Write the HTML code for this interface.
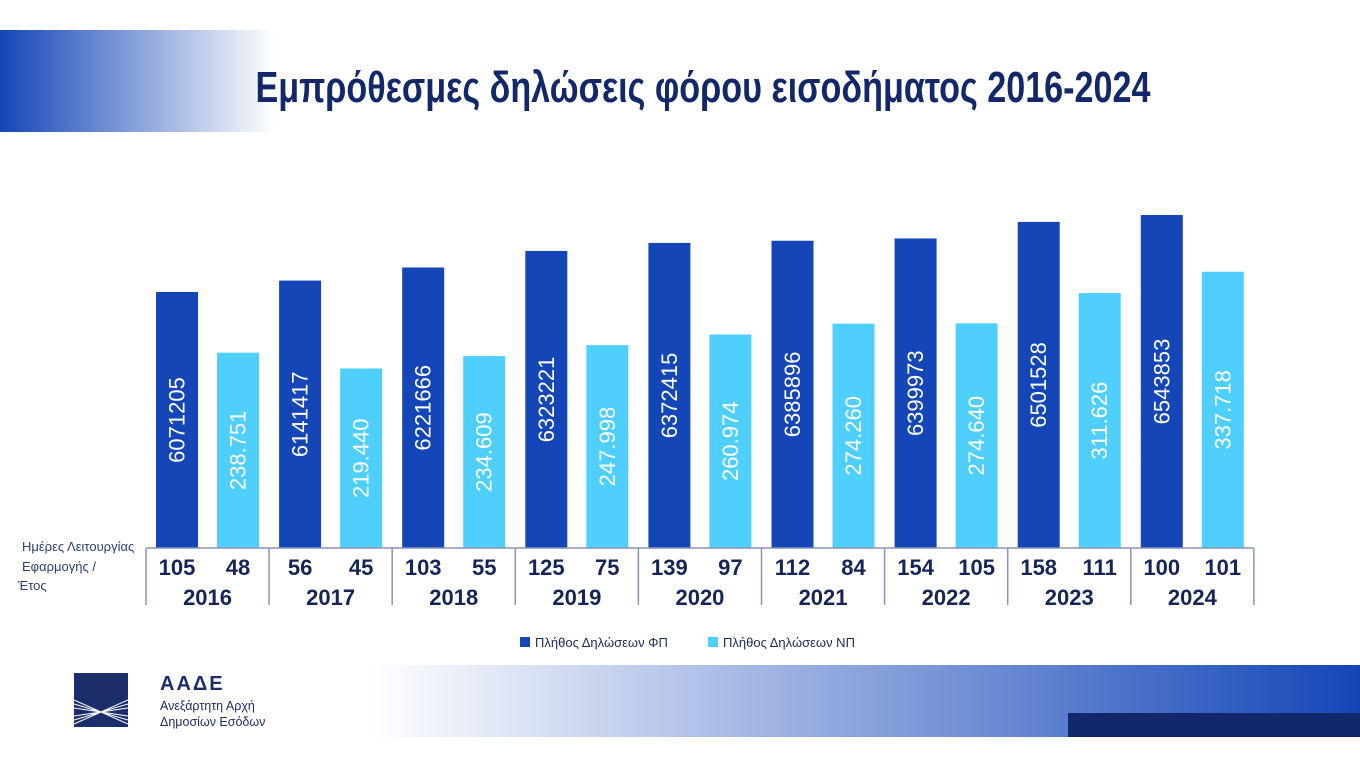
<!DOCTYPE html>
<html><head><meta charset="utf-8"><style>
html,body{margin:0;padding:0;background:#fff;}
svg{display:block;font-family:"Liberation Sans",sans-serif;}
</style></head><body>
<svg id="chart" width="1360" height="765" viewBox="0 0 1360 765">
<defs>
<linearGradient id="gTop" x1="0" x2="1"><stop offset="0" stop-color="#1446b8"/><stop offset="1" stop-color="#1446b8" stop-opacity="0"/></linearGradient>
<linearGradient id="gBot" x1="0" x2="1"><stop offset="0" stop-color="#1446b8" stop-opacity="0"/><stop offset="1" stop-color="#1446b8"/></linearGradient>
</defs>
<rect x="0" y="30" width="275" height="102" fill="url(#gTop)"/>
<text x="703" y="102" text-anchor="middle" textLength="895" lengthAdjust="spacingAndGlyphs" font-family="Liberation Sans Narrow, Liberation Sans, sans-serif" font-weight="bold" font-size="44" fill="#13286b">Εμπρόθεσμες δηλώσεις φόρου εισοδήματος 2016-2024</text>
<g id="bars"></g>
<g id="axis"></g>
<text font-size="13" fill="#2a3f7a"><tspan x="22" y="551">Ημέρες Λειτουργίας</tspan><tspan x="22" y="571">Εφαρμογής /</tspan><tspan x="18" y="590">Έτος</tspan></text>
<g>
<rect x="520" y="637" width="10" height="10" fill="#1446b8"/>
<text x="535" y="647" font-size="13" fill="#1a2a5a">Πλήθος Δηλώσεων ΦΠ</text>
<rect x="708" y="637" width="10" height="10" fill="#4fcffd"/>
<text x="723" y="647" font-size="13" fill="#1a2a5a">Πλήθος Δηλώσεων ΝΠ</text>
</g>
<rect x="370" y="665" width="990" height="72" fill="url(#gBot)"/>
<rect x="1068" y="713" width="292" height="24" fill="#13286b"/>
<g>
<rect x="74" y="673" width="54" height="54" fill="#1b2d6b"/>
<g stroke="#fff" stroke-width="1" fill="none">
<path d="M74 700 L101 712 L128 700 M74 704 L101 712 L128 704 M74 708 L101 712 L128 708 M74 716 L101 712 L128 716 M74 720 L101 712 L128 720 M74 724 L101 712 L128 724"/>
</g>
<text x="160" y="690" font-size="20" font-weight="bold" fill="#1b2d6b" letter-spacing="2">ΑΑΔΕ</text>
<text x="160" y="710" font-size="12.5" fill="#1b2d6b">Ανεξάρτητη Αρχή</text>
<text x="160" y="726" font-size="12.5" fill="#1b2d6b">Δημοσίων Εσόδων</text>
</g>
</svg>
<script>
const years=["2016","2017","2018","2019","2020","2021","2022","2023","2024"];
const fpValues=[6071205,6141417,6221666,6323221,6372415,6385896,6399973,6501528,6543853];
const npValues=[238.751,219.440,234.609,247.998,260.974,274.260,274.640,311.626,337.718];
const fpLabels=["6071205","6141417","6221666","6323221","6372415","6385896","6399973","6501528","6543853"];
const npLabels=["238.751","219.440","234.609","247.998","260.974","274.260","274.640","311.626","337.718"];
const fpDays=["105","56","103","125","139","112","154","158","100"];
const npDays=["48","45","55","75","97","84","105","111","101"];
const NS="http://www.w3.org/2000/svg";
const baseY=548,x0=146,groupW=123.1;
function yFP(v){return baseY-(v-4499700)*1.629e-4;}
function yNP(v){return baseY-v*0.818;}
function xg(i){return x0+i*groupW;}
function mk(tag,attrs,parent){const e=document.createElementNS(NS,tag);for(const k in attrs)e.setAttribute(k,attrs[k]);parent.appendChild(e);return e;}
const bars=document.getElementById('bars'),axis=document.getElementById('axis');
years.forEach((yr,i)=>{
  const gx=xg(i);
  [[fpValues[i],yFP,"#1446b8",10,fpLabels[i],'bar-fp-'+yr],[npValues[i],yNP,"#4fcffd",71,npLabels[i],'bar-np-'+yr]].forEach(([v,f,c,off,lab,nm])=>{
    const top=f(v),bx=gx+off,w=42;
    const r=mk('rect',{x:bx,y:top,width:w,height:baseY-top,fill:c},bars);
    
    
    const cx=bx+w/2,cy=(top+baseY)/2;
    const t=mk('text',{x:cx,y:cy,'text-anchor':'middle','dominant-baseline':'central','font-size':'22',fill:'#fff',transform:'rotate(-90 '+cx+' '+cy+')'},bars);
    t.textContent=lab;
    
    
  });
  const d1=mk('text',{x:gx+31,y:575,'text-anchor':'middle','font-size':'22','font-weight':'bold',fill:'#162559'},axis);d1.textContent=fpDays[i];
  
  
  const d2=mk('text',{x:gx+92,y:575,'text-anchor':'middle','font-size':'22','font-weight':'bold',fill:'#162559'},axis);d2.textContent=npDays[i];
  
  
  const yl=mk('text',{x:gx+groupW/2,y:605,'text-anchor':'middle','font-size':'22','font-weight':'bold',fill:'#162559'},axis);yl.textContent=yr;
  
  
});
for(let i=0;i<=years.length;i++){
  const l=mk('line',{x1:xg(i),x2:xg(i),y1:baseY,y2:605,stroke:'#8a94b8','stroke-width':1.5},axis);
  
  
}
const bl=mk('line',{x1:x0,x2:xg(years.length),y1:baseY,y2:baseY,stroke:'#8a94b8','stroke-width':1.5},axis);


</script>
</body></html>
